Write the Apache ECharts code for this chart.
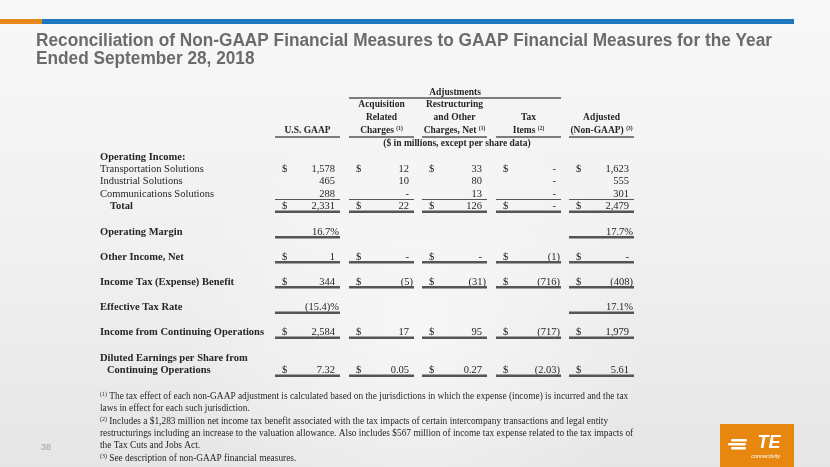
<!DOCTYPE html>
<html><head><meta charset="utf-8">
<script src="https://cdn.jsdelivr.net/npm/echarts@6/dist/echarts.min.js"></script>
<style>html,body{margin:0;padding:0;background:#eee}#c{width:830px;height:467px}</style>
</head><body><div id="c"></div>
<script>
// ---------- data ----------
const titleLines = ['Reconciliation of Non-GAAP Financial Measures to GAAP Financial Measures for the Year', 'Ended September 28, 2018'];
const rowLabels = ['Operating Income:', 'Transportation Solutions', 'Industrial Solutions', 'Communications Solutions', 'Total',
  'Operating Margin', 'Other Income, Net', 'Income Tax (Expense) Benefit', 'Effective Tax Rate',
  'Income from Continuing Operations', 'Diluted Earnings per Share from', 'Continuing Operations'];
const rowKinds = ['head', 'money', 'money', 'money', 'money', 'pct', 'money', 'money', 'pct', 'money', 'label', 'eps'];
const usGaap        = [null, 1578, 465, 288, 2331, 16.7, 1, 344, -15.4, 2584, null, 7.32];
const acquisition   = [null, 12, 10, 0, 22, null, 0, -5, null, 17, null, 0.05];
const restructuring = [null, 33, 80, 13, 126, null, 0, -31, null, 95, null, 0.27];
const taxItems      = [null, 0, 0, 0, 0, null, -1, -716, null, -717, null, -2.03];
const adjusted      = [null, 1623, 555, 301, 2479, 17.7, 0, -408, 17.1, 1979, null, 5.61];
const columnHeaders = [
  ['U.S. GAAP'],
  ['Acquisition', 'Related', 'Charges {s|(1)}'],
  ['Restructuring', 'and Other', 'Charges, Net {s|(1)}'],
  ['Tax', 'Items {s|(2)}'],
  ['Adjusted', '(Non-GAAP) {s|(3)}']
];
const groupHeader = 'Adjustments';
const unitsNote = '($ in millions, except per share data)';
const footnotes = [
  ['(1)', 'The tax effect of each non-GAAP adjustment is calculated based on the jurisdictions in which the expense (income) is incurred and the tax'],
  [null, 'laws in effect for each such jurisdiction.'],
  ['(2)', 'Includes a $1,283 million net income tax benefit associated with the tax impacts of certain intercompany transactions and legal entity'],
  [null, 'restructurings including an increase to the valuation allowance. Also includes $567 million of income tax expense related to the tax impacts of'],
  [null, 'the Tax Cuts and Jobs Act.'],
  ['(3)', 'See description of non-GAAP financial measures.']
];
const pageNumber = '38';

// ---------- layout ----------
const columns = [usGaap, acquisition, restructuring, taxItems, adjusted];
const colLeft = [275, 349, 422, 496, 569];
const colW = 65;
const rowY = [157, 169.5, 181.5, 194, 206.5, 232, 257, 282, 307.5, 332.5, 358, 370.5];
const labelX = 100;
const SERIF = '"Liberation Serif","Times New Roman",serif';
const SANS = '"Liberation Sans",Arial,sans-serif';
const TXT = '#262626';
const LINE = '#555555';

function fmt(v, kind) {
  if (v === null || v === undefined) return '';
  if (kind === 'pct') {
    const s = Math.abs(v).toFixed(1);
    return v < 0 ? '(' + s + ')%' : s + '%';
  }
  if (v === 0) return '-';
  const s = kind === 'eps' ? Math.abs(v).toFixed(2) : Math.abs(v).toLocaleString('en-US');
  return v < 0 ? '(' + s + ')' : s;
}
const measureCtx = document.createElement('canvas').getContext('2d');
function measure(text, font) { measureCtx.font = font; return measureCtx.measureText(text).width; }

const g = [];
// background
g.push({ type: 'rect', shape: { x: 0, y: 0, width: 830, height: 467 }, style: { fill: new echarts.graphic.LinearGradient(0, 0, 0, 1, [
  { offset: 0, color: '#f8f8f8' }, { offset: 0.5, color: '#f1f1f1' }, { offset: 1, color: '#e6e6e6' }]) }, silent: true });
g.push({ type: 'rect', shape: { x: 0, y: 0, width: 830, height: 467 }, style: { fill: new echarts.graphic.RadialGradient(0.5, 0.72, 0.5, [
  { offset: 0, color: 'rgba(255,255,255,0.55)' }, { offset: 1, color: 'rgba(255,255,255,0)' }]) }, silent: true });
// top bar
g.push({ type: 'rect', shape: { x: 0, y: 19, width: 42, height: 5 }, style: { fill: '#E8861A' } });
g.push({ type: 'rect', shape: { x: 42, y: 19, width: 752, height: 5 }, style: { fill: '#1F77BF' } });
// title
const titleFont = 'bold 18px ' + SANS;
const tScale = 736 / measure(titleLines[0], titleFont);
titleLines.forEach((t, i) => {
  g.push({ type: 'text', x: 36, y: 41 + i * 18, scaleX: tScale, style: { text: t, font: titleFont, fill: '#6b6b6b', align: 'left', verticalAlign: 'middle' } });
});

// headers
const hFont = 'bold 9.5px ' + SERIF;
const rich = { s: { fontSize: 5.5, fontFamily: SERIF, fontWeight: 'bold', fill: TXT, verticalAlign: 'top', padding: [0, 0, 3, 0] } };
const headY = [105, 118, 131];
columnHeaders.forEach((lines, c) => {
  const cx = colLeft[c] + colW / 2;
  lines.forEach((t, k) => {
    const y = headY[3 - lines.length + k];
    g.push({ type: 'text', x: cx, y: y, style: { text: t, font: hFont, fill: TXT, align: 'center', verticalAlign: 'middle', rich: rich } });
  });
  g.push({ type: 'line', shape: { x1: colLeft[c], y1: 137, x2: colLeft[c] + colW, y2: 137 }, style: { stroke: LINE, lineWidth: 1.5 } });
});
const grpL = colLeft[1], grpR = colLeft[3] + colW;
g.push({ type: 'text', x: (grpL + grpR) / 2, y: 92.5, style: { text: groupHeader, font: hFont, fill: TXT, align: 'center', verticalAlign: 'middle' } });
g.push({ type: 'line', shape: { x1: grpL, y1: 98, x2: grpR, y2: 98 }, style: { stroke: LINE, lineWidth: 1.5 } });
g.push({ type: 'text', x: (grpL + grpR) / 2 + 2, y: 144, style: { text: unitsNote, font: hFont, fill: TXT, align: 'center', verticalAlign: 'middle' } });

// rows
const boldRows = { 0: 1, 4: 1, 5: 1, 6: 1, 7: 1, 8: 1, 9: 1, 10: 1, 11: 1 };
const indent = { 4: 10, 11: 7 };
const dollarRows = { 1: 1, 4: 1, 6: 1, 7: 1, 9: 1, 11: 1 };
rowLabels.forEach((lab, r) => {
  const y = rowY[r];
  const font = (boldRows[r] ? 'bold ' : '') + '10.5px ' + SERIF;
  g.push({ type: 'text', x: labelX + (indent[r] || 0), y: y, style: { text: lab, font: font, fill: TXT, align: 'left', verticalAlign: 'middle' } });
  const kind = rowKinds[r];
  if (kind === 'head' || kind === 'label') return;
  columns.forEach((col, c) => {
    const v = col[r];
    if (v === null) return;
    const s = fmt(v, kind);
    const hang = /[)%]$/.test(s) ? 4 : 0;
    g.push({ type: 'text', x: colLeft[c] + 60 + hang, y: y, style: { text: s, font: '10.5px ' + SERIF, fill: TXT, align: 'right', verticalAlign: 'middle' } });
    if (dollarRows[r]) {
      g.push({ type: 'text', x: colLeft[c] + 7, y: y, style: { text: '$', font: '10.5px ' + SERIF, fill: TXT, align: 'left', verticalAlign: 'middle' } });
    }
    if (r === 3) {
      g.push({ type: 'line', shape: { x1: colLeft[c], y1: y + 5.5, x2: colLeft[c] + colW, y2: y + 5.5 }, style: { stroke: LINE, lineWidth: 1 } });
    } else if (r >= 4) {
      g.push({ type: 'line', shape: { x1: colLeft[c], y1: y + 5.3, x2: colLeft[c] + colW, y2: y + 5.3 }, style: { stroke: LINE, lineWidth: 2.6 } });
    }
  });
});

// footnotes
const fFont = '9.5px ' + SERIF;
const fScale = 519 / measure(footnotes[0][1], fFont);
const fnY = [396.5, 408.5, 421.5, 433.5, 445.5, 458];
footnotes.forEach((f, i) => {
  const txt = (f[0] ? '{s|' + f[0] + '} ' : '') + f[1];
  g.push({ type: 'text', x: labelX, y: fnY[i], scaleX: fScale, style: { text: txt, font: fFont, fill: TXT, align: 'left', verticalAlign: 'middle',
    rich: { s: { fontSize: 6, fontFamily: SERIF, fill: TXT, verticalAlign: 'top', padding: [0, 0, 3, 0] } } } });
});
g.push({ type: 'text', x: 41, y: 448, style: { text: pageNumber, font: '9px ' + SANS, fill: '#a0a0a0', align: 'left', verticalAlign: 'middle' } });

// logo
g.push({ type: 'rect', shape: { x: 720, y: 424, width: 74, height: 43 }, style: { fill: '#E8870F' } });
[[731, 439, 16], [728, 443, 18], [731, 447, 15]].forEach(b => g.push({ type: 'rect', shape: { x: b[0], y: b[1], width: b[2], height: 2.4, r: 1.2 }, style: { fill: '#fff' } }));
g.push({ type: 'text', x: 769, y: 443, style: { text: 'TE', font: 'italic bold 18px ' + SANS, fill: '#fff', align: 'center', verticalAlign: 'middle' } });
g.push({ type: 'text', x: 780, y: 456, style: { text: 'connectivity', font: 'italic 5.5px ' + SANS, fill: '#fff', align: 'right', verticalAlign: 'middle' } });

const chart = echarts.init(document.getElementById('c'), null, { renderer: 'canvas', width: 830, height: 467 });
chart.setOption({ animation: false, backgroundColor: '#f2f2f2', graphic: { elements: g } });
</script></body></html>
